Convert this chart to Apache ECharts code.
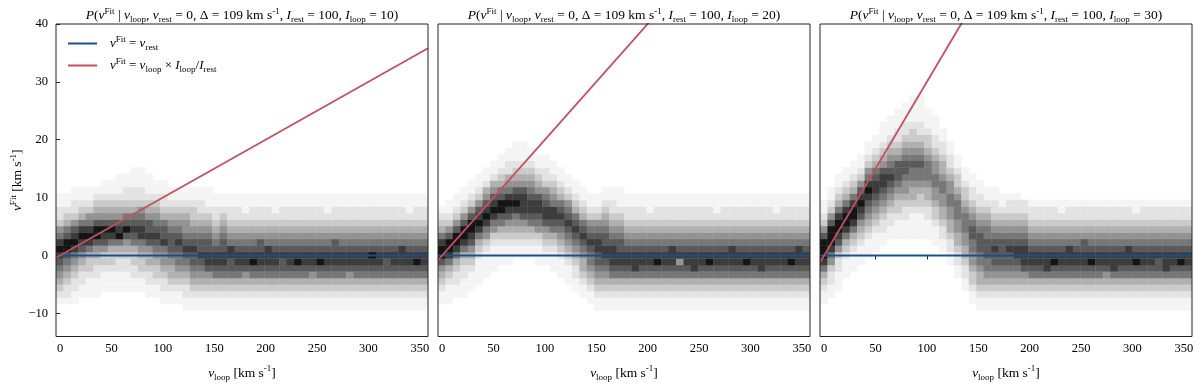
<!DOCTYPE html>
<html>
<head>
<meta charset="utf-8">
<script src="https://cdn.jsdelivr.net/npm/echarts@6/dist/echarts.min.js"></script>
<style>
html, body { margin: 0; padding: 0; background: #fff; }
#chart { width: 1200px; height: 387px; }
</style>
</head>
<body>
<div id="chart"></div>
<script>
// axis ranges and ticks
const xMin = -4, xMax = 358;
const yMin = -14, yMax = 40;
const xTicks = [0, 50, 100, 150, 200, 250, 300, 350];
const yTicks = [-10, 0, 10, 20, 30, 40];

// histogram bins
const xBinStart = -4, xBinWidth = 7.24;
const yBinStart = -14, yBinHeight = 1.125;

// line parameters
const iRest = 100;
const iLoop = [10, 20, 30];
const lineX = [xMin, xMax];

// 2D histogram counts, one string per v_loop bin (column), rows from the bottom, 0 (white) .. 9 (black)
const panel1Cols = [
  '000001234567898653221100000', '000001223456799764321100000', '000001122345689875322110000',
  '000000112234578986432110000', '000000111233468986532110000', '000000111223457997543210000',
  '000000011123357897543211000', '000000011123346897543211000', '000000011122346987543211100',
  '000000011122345797643221100', '000000011223346787643221110', '000000011233456887653221110',
  '000000112234457877543211100', '000000112334567876543211000', '000001122345568776432211000',
  '000001123445677765432110000', '000001123456678765432110000', '000011223456787655432110000',
  '000011234567787654332110000', '000011234567877654322110000', '000011234578877654321110000',
  '000011234678876543221100000', '000011234678877654321100000', '000011234677886543221100000',
  '000011234678876543221100000', '000011234578876543211100000', '000011234679876543221100000',
  '000011234678877543221100000', '000011234678886543221100000', '000011234678876543211100000',
  '000011234677876543221100000', '000011234678876543221100000', '000011234679876543221100000',
  '000011234678876543221100000', '000011234578876543221100000', '000011234679876543221100000',
  '000011234678876543211100000', '000011234678877543221100000', '000011234678876543221100000',
  '000011234578876543221100000', '000011234678876543221100000', '000011234678876543221100000',
  '000011234678976543221100000', '000011234678876543221100000', '000011234677876543221100000',
  '000011234678876543221100000', '000011234678886543221100000', '000011234678876543211100000',
  '000011234679876543221100000', '000011234678876543221100000'
];

const panel2Cols = [
  '00000112345799864321', '000001112346899753211', '0000001122346899753211',
  '00000011122346899753211', '000000011123457899753211', '0000000011112346898753211',
  '00000000011112356898754211', '000000000011112356898754211', '0000000000011123467997643211',
  '00000000000111234578986542211', '000000000000112345689875432111', '000000000000112345788875432111',
  '00000000000011234678876543211', '0000000000011123567887543211', '0000000000011234578876532211',
  '000000000011123467886543211', '00000000011123456787643211', '0000000011123456787653211',
  '000000011223456787643211', '00000011234456787643211', '0000011234566787653211',
  '0000112345677887653211', '00001123456788776543211', '00001123467888765432211',
  '00001123467887765432111', '0000112346788765432211', '0000112346888765432211',
  '0000112346788765432211', '0000112346788765432111', '0000112346798765432211',
  '0000112346788765432211', '0000112346788865432211', '0000112346758765432211',
  '0000112346788765432211', '0000112346888765432211', '0000112346788765432211',
  '0000112346798765432211', '0000112346788765432111', '0000112346788765432211',
  '0000112346788865432211', '0000112346788765432211', '0000112346798765432211',
  '0000112346788765432211', '0000112346888765432211', '0000112346788765432211',
  '0000112346788765432111', '0000112346788765432211', '0000112346798765432211',
  '0000112346788865432211', '0000112346788765432211'
];

const panel3Cols = [
  '000001123468999753211', '00000011223568999753211', '0000000111223578998643211',
  '00000000011123468998643211', '000000000011123468998643211', '0000000000011123457898753211',
  '000000000000111234567898653211', '0000000000000111234567887643211', '000000000000001122345678875432111',
  '0000000000000001122345678765432111', '00000000000000011123345677754322111', '000000000000000111223455677654322111',
  '0000000000000001111234456676543321111', '0000000000000001111233456676543221111', '00000000000000011122344566654332111',
  '0000000000000011123345566554322111', '00000000000001122344556654432211', '000000000001122344556655432211',
  '0000000001122344556665433211', '00000001122344556665433211', '0000011233455667765432211',
  '000011234456677765432211', '00001123456677766543211', '00001123456778765432211',
  '0000112345677776543211', '0000112345677876543221', '0000112345678876543221',
  '000011234578887654322', '000011234678876543221', '000011234678876543221',
  '000011234688876543221', '000011234679876543221', '000011234678876543211',
  '000011234678886543221', '000011234678876543221', '000011234678877543221',
  '000011234679876543221', '000011234678876543221', '000011234578876543221',
  '000011234688876543221', '000011234678876543221', '000011234678886543221',
  '000011234679876543211', '000011234678876543221', '000011234678876543221',
  '000011234677876543221', '000011234688876543221', '000011234678876543221',
  '000011234679876543221', '000011234678876543221'
];

const panels = [panel1Cols, panel2Cols, panel3Cols];
const gridLefts = [56, 438, 820];

const SERIF = 'Liberation Serif';
const BLUE = '#1b4f8c';
const RED = '#c4505f';
// one grey per count level 0..9
const GREYS = ['#ffffff', '#f4f4f4', '#e3e3e3', '#cbcbcb', '#b0b0b0', '#939393', '#777777', '#5a5a5a', '#3c3c3c', '#151515'];

function makeRich(size) {
  const small = Math.round(size * 0.7);
  return {
    i: { fontFamily: SERIF, fontStyle: 'italic', fontWeight: 'normal', fontSize: size, lineHeight: size + 4, color: '#000' },
    r: { fontFamily: SERIF, fontWeight: 'normal', fontSize: size, lineHeight: size + 4, color: '#000' },
    sup: { fontFamily: SERIF, fontWeight: 'normal', fontSize: small, lineHeight: small, verticalAlign: 'top', color: '#000' },
    sub: { fontFamily: SERIF, fontWeight: 'normal', fontSize: small, lineHeight: small, verticalAlign: 'bottom', color: '#000' },
    sp: { width: 8 }
  };
}
const titleRich = makeRich(13.5);
const axisRich = makeRich(13.5);
const legendRich = makeRich(13);

function buildCells(cols) {
  const cells = [];
  cols.forEach((col, j) => {
    for (let k = 0; k < col.length; k++) {
      const v = +col[k];
      if (v > 0) {
        const x0 = xBinStart + j * xBinWidth;
        const y0 = yBinStart + k * yBinHeight;
        cells.push([x0, x0 + xBinWidth, y0, y0 + yBinHeight, v]);
      }
    }
  });
  return cells;
}

function renderCell(params, api) {
  const p0 = api.coord([api.value(0), api.value(3)]);
  const p1 = api.coord([api.value(1), api.value(2)]);
  return {
    type: 'rect',
    shape: { x: p0[0], y: p0[1], width: p1[0] - p0[0] + 0.4, height: p1[1] - p0[1] + 0.4 },
    style: { fill: api.visual('color') }
  };
}

function titleText(loop) {
  return '{i|P}{r|(}{i|v}{sup|Fit}{r| | }{i|v}{sub|loop}{r|, }{i|v}{sub|rest}{r| = 0, \u0394 = 109 km s}{sup|-1}{r|, }' +
    '{i|I}{sub|rest}{r| = ' + iRest + ', }{i|I}{sub|loop}{r| = ' + loop + ')}';
}

const chart = echarts.init(document.getElementById('chart'));

const grids = gridLefts.map(left => ({
  left: left, top: 24, width: 372, height: 319,
  show: true, borderColor: '#222', borderWidth: 1, backgroundColor: 'rgba(0,0,0,0)', z: 10
}));

const xAxes = gridLefts.map((_, i) => ({
  type: 'value', gridIndex: i, min: xMin, max: xMax, splitNumber: 7,
  axisLine: { show: false },
  axisTick: { show: true, length: 4, customValues: xTicks, lineStyle: { color: '#222' } },
  axisLabel: { customValues: xTicks, fontFamily: SERIF, fontSize: 12.5, color: '#000', margin: 6 },
  splitLine: { show: false },
  name: '{i|v}{sub|loop}{r| [km s}{sup|-1}{r|]}',
  nameLocation: 'middle', nameGap: 28,
  nameTextStyle: { rich: axisRich }
}));

const yAxes = gridLefts.map((_, i) => ({
  type: 'value', gridIndex: i, min: yMin, max: yMax,
  axisLine: { show: false },
  axisTick: { show: i === 0, length: 4, customValues: yTicks, lineStyle: { color: '#222' } },
  axisLabel: {
    show: i === 0, customValues: yTicks, fontFamily: SERIF, fontSize: 12.5, color: '#000', margin: 8,
    formatter: v => String(v).replace('-', '\u2212')
  },
  splitLine: { show: false },
  name: i === 0 ? '{i|v}{sup|Fit}{r| [km s}{sup|-1}{r|]}' : '',
  nameLocation: 'middle', nameGap: 26, nameRotate: 90,
  nameTextStyle: { rich: axisRich }
}));

const series = [];
panels.forEach((cols, i) => {
  series.push({
    type: 'custom', name: 'hist' + i, xAxisIndex: i, yAxisIndex: i,
    renderItem: renderCell, data: buildCells(cols), encode: { x: [0, 1], y: [2, 3] }, clip: true, z: 1
  });
});
panels.forEach((_, i) => {
  series.push({
    type: 'line', name: 'rest', xAxisIndex: i, yAxisIndex: i, showSymbol: false, z: 3,
    color: BLUE, lineStyle: { color: BLUE, width: 2 },
    data: lineX.map(x => [x, 0])
  });
  series.push({
    type: 'line', name: 'loop', xAxisIndex: i, yAxisIndex: i, showSymbol: false, z: 4, clip: true,
    color: RED, lineStyle: { color: RED, width: 1.8 },
    data: lineX.map(x => [x, x * iLoop[i] / iRest])
  });
});

chart.setOption({
  animation: false,
  backgroundColor: '#fff',
  title: gridLefts.map((left, i) => ({
    text: titleText(iLoop[i]), left: left + 181, top: 2, textAlign: 'center',
    textStyle: { fontWeight: 'normal', rich: titleRich }
  })),
  legend: {
    data: ['rest', 'loop'], orient: 'vertical', left: 63, top: 30, itemGap: 5,
    icon: 'rect', itemWidth: 29, itemHeight: 2,
    formatter: name => name === 'rest'
      ? '{sp|}{i|v}{sup|Fit}{r| = }{i|v}{sub|rest}'
      : '{sp|}{i|v}{sup|Fit}{r| = }{i|v}{sub|loop}{r| \u00d7 }{i|I}{sub|loop}{r|/}{i|I}{sub|rest}',
    textStyle: { rich: legendRich }
  },
  visualMap: {
    show: false, type: 'continuous', seriesIndex: [0, 1, 2], dimension: 4, min: 0, max: 9,
    inRange: { color: GREYS }
  },
  grid: grids,
  xAxis: xAxes,
  yAxis: yAxes,
  series: series
});
</script>
</body>
</html>
